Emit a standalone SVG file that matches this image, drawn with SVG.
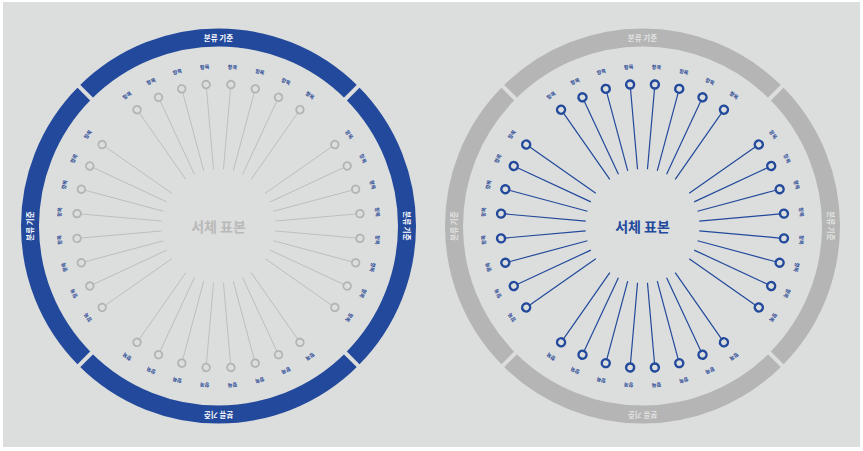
<svg xmlns="http://www.w3.org/2000/svg" width="863" height="451" viewBox="0 0 863 451">
<style>
text{font-family:"Noto Sans CJK KR","Noto Sans",sans-serif;text-anchor:middle;dominant-baseline:central;}
.lb{font-size:5.2px;font-weight:bold;fill:#2b4a96;}
.rt{font-size:7.5px;font-weight:bold;}
.ct{font-size:14px;font-weight:bold;}
.dl{fill:none;stroke:#b3b3b3;stroke-width:1.8;}
.dr{fill:none;stroke:#22499b;stroke-width:2.4;}
.cl{stroke:#b8b8b8;stroke-width:0.8;}
.cr{stroke:#22499b;stroke-width:1.2;}
.gap{stroke:#dcdedd;stroke-width:4;}
</style>
<rect width="863" height="451" fill="#ffffff"/>
<rect x="3" y="2" width="857" height="445" fill="#dcdedd"/>

<!-- LEFT DIAGRAM -->
<g transform="translate(218.5 226)">
  <g id="left-ring">
    <circle r="188.5" fill="none" stroke="#22499b" stroke-width="18"/>
    <line class="gap" x1="175" x2="203" transform="rotate(45)"/>
    <line class="gap" x1="175" x2="203" transform="rotate(135)"/>
    <line class="gap" x1="175" x2="203" transform="rotate(225)"/>
    <line class="gap" x1="175" x2="203" transform="rotate(315)"/>
    <text class="rt" fill="#ffffff" transform="rotate(-90) translate(189 0) rotate(90)">분류 기준</text>
    <text class="rt" fill="#ffffff" transform="rotate(0) translate(189 0) rotate(90)">분류 기준</text>
    <text class="rt" fill="#ffffff" transform="rotate(90) translate(189 0) rotate(90)">분류 기준</text>
    <text class="rt" fill="#ffffff" transform="rotate(180) translate(189 0) rotate(90)">분류 기준</text>
  </g>
  <g id="left-connectors">
    <line class="cl" x1="57" x2="138" transform="rotate(-125)"/>
    <line class="cl" x1="57" x2="138" transform="rotate(-115)"/>
    <line class="cl" x1="57" x2="138" transform="rotate(-105)"/>
    <line class="cl" x1="57" x2="138" transform="rotate(-95)"/>
    <line class="cl" x1="57" x2="138" transform="rotate(-85)"/>
    <line class="cl" x1="57" x2="138" transform="rotate(-75)"/>
    <line class="cl" x1="57" x2="138" transform="rotate(-65)"/>
    <line class="cl" x1="57" x2="138" transform="rotate(-55)"/>
    <line class="cl" x1="57" x2="138" transform="rotate(-35)"/>
    <line class="cl" x1="57" x2="138" transform="rotate(-25)"/>
    <line class="cl" x1="57" x2="138" transform="rotate(-15)"/>
    <line class="cl" x1="57" x2="138" transform="rotate(-5)"/>
    <line class="cl" x1="57" x2="138" transform="rotate(5)"/>
    <line class="cl" x1="57" x2="138" transform="rotate(15)"/>
    <line class="cl" x1="57" x2="138" transform="rotate(25)"/>
    <line class="cl" x1="57" x2="138" transform="rotate(35)"/>
    <line class="cl" x1="57" x2="138" transform="rotate(55)"/>
    <line class="cl" x1="57" x2="138" transform="rotate(65)"/>
    <line class="cl" x1="57" x2="138" transform="rotate(75)"/>
    <line class="cl" x1="57" x2="138" transform="rotate(85)"/>
    <line class="cl" x1="57" x2="138" transform="rotate(95)"/>
    <line class="cl" x1="57" x2="138" transform="rotate(105)"/>
    <line class="cl" x1="57" x2="138" transform="rotate(115)"/>
    <line class="cl" x1="57" x2="138" transform="rotate(125)"/>
    <line class="cl" x1="57" x2="138" transform="rotate(145)"/>
    <line class="cl" x1="57" x2="138" transform="rotate(155)"/>
    <line class="cl" x1="57" x2="138" transform="rotate(165)"/>
    <line class="cl" x1="57" x2="138" transform="rotate(175)"/>
    <line class="cl" x1="57" x2="138" transform="rotate(185)"/>
    <line class="cl" x1="57" x2="138" transform="rotate(195)"/>
    <line class="cl" x1="57" x2="138" transform="rotate(205)"/>
    <line class="cl" x1="57" x2="138" transform="rotate(215)"/>
  </g>
  <g id="left-center"><text class="ct" fill="#b9b9b9">서체 표본</text></g>
  <g id="left-n01" transform="rotate(-125)"><circle class="dl" cx="142" r="3.8"/><text class="lb" transform="translate(160 0) rotate(90)">항목</text></g>
  <g id="left-n02" transform="rotate(-115)"><circle class="dl" cx="142" r="3.8"/><text class="lb" transform="translate(160 0) rotate(90)">항목</text></g>
  <g id="left-n03" transform="rotate(-105)"><circle class="dl" cx="142" r="3.8"/><text class="lb" transform="translate(160 0) rotate(90)">항목</text></g>
  <g id="left-n04" transform="rotate(-95)"><circle class="dl" cx="142" r="3.8"/><text class="lb" transform="translate(160 0) rotate(90)">항목</text></g>
  <g id="left-n05" transform="rotate(-85)"><circle class="dl" cx="142" r="3.8"/><text class="lb" transform="translate(160 0) rotate(90)">항목</text></g>
  <g id="left-n06" transform="rotate(-75)"><circle class="dl" cx="142" r="3.8"/><text class="lb" transform="translate(160 0) rotate(90)">항목</text></g>
  <g id="left-n07" transform="rotate(-65)"><circle class="dl" cx="142" r="3.8"/><text class="lb" transform="translate(160 0) rotate(90)">항목</text></g>
  <g id="left-n08" transform="rotate(-55)"><circle class="dl" cx="142" r="3.8"/><text class="lb" transform="translate(160 0) rotate(90)">항목</text></g>
  <g id="left-n09" transform="rotate(-35)"><circle class="dl" cx="142" r="3.8"/><text class="lb" transform="translate(160 0) rotate(90)">항목</text></g>
  <g id="left-n10" transform="rotate(-25)"><circle class="dl" cx="142" r="3.8"/><text class="lb" transform="translate(160 0) rotate(90)">항목</text></g>
  <g id="left-n11" transform="rotate(-15)"><circle class="dl" cx="142" r="3.8"/><text class="lb" transform="translate(160 0) rotate(90)">항목</text></g>
  <g id="left-n12" transform="rotate(-5)"><circle class="dl" cx="142" r="3.8"/><text class="lb" transform="translate(160 0) rotate(90)">항목</text></g>
  <g id="left-n13" transform="rotate(5)"><circle class="dl" cx="142" r="3.8"/><text class="lb" transform="translate(160 0) rotate(90)">항목</text></g>
  <g id="left-n14" transform="rotate(15)"><circle class="dl" cx="142" r="3.8"/><text class="lb" transform="translate(160 0) rotate(90)">항목</text></g>
  <g id="left-n15" transform="rotate(25)"><circle class="dl" cx="142" r="3.8"/><text class="lb" transform="translate(160 0) rotate(90)">항목</text></g>
  <g id="left-n16" transform="rotate(35)"><circle class="dl" cx="142" r="3.8"/><text class="lb" transform="translate(160 0) rotate(90)">항목</text></g>
  <g id="left-n17" transform="rotate(55)"><circle class="dl" cx="142" r="3.8"/><text class="lb" transform="translate(160 0) rotate(90)">항목</text></g>
  <g id="left-n18" transform="rotate(65)"><circle class="dl" cx="142" r="3.8"/><text class="lb" transform="translate(160 0) rotate(90)">항목</text></g>
  <g id="left-n19" transform="rotate(75)"><circle class="dl" cx="142" r="3.8"/><text class="lb" transform="translate(160 0) rotate(90)">항목</text></g>
  <g id="left-n20" transform="rotate(85)"><circle class="dl" cx="142" r="3.8"/><text class="lb" transform="translate(160 0) rotate(90)">항목</text></g>
  <g id="left-n21" transform="rotate(95)"><circle class="dl" cx="142" r="3.8"/><text class="lb" transform="translate(160 0) rotate(90)">항목</text></g>
  <g id="left-n22" transform="rotate(105)"><circle class="dl" cx="142" r="3.8"/><text class="lb" transform="translate(160 0) rotate(90)">항목</text></g>
  <g id="left-n23" transform="rotate(115)"><circle class="dl" cx="142" r="3.8"/><text class="lb" transform="translate(160 0) rotate(90)">항목</text></g>
  <g id="left-n24" transform="rotate(125)"><circle class="dl" cx="142" r="3.8"/><text class="lb" transform="translate(160 0) rotate(90)">항목</text></g>
  <g id="left-n25" transform="rotate(145)"><circle class="dl" cx="142" r="3.8"/><text class="lb" transform="translate(160 0) rotate(90)">항목</text></g>
  <g id="left-n26" transform="rotate(155)"><circle class="dl" cx="142" r="3.8"/><text class="lb" transform="translate(160 0) rotate(90)">항목</text></g>
  <g id="left-n27" transform="rotate(165)"><circle class="dl" cx="142" r="3.8"/><text class="lb" transform="translate(160 0) rotate(90)">항목</text></g>
  <g id="left-n28" transform="rotate(175)"><circle class="dl" cx="142" r="3.8"/><text class="lb" transform="translate(160 0) rotate(90)">항목</text></g>
  <g id="left-n29" transform="rotate(185)"><circle class="dl" cx="142" r="3.8"/><text class="lb" transform="translate(160 0) rotate(90)">항목</text></g>
  <g id="left-n30" transform="rotate(195)"><circle class="dl" cx="142" r="3.8"/><text class="lb" transform="translate(160 0) rotate(90)">항목</text></g>
  <g id="left-n31" transform="rotate(205)"><circle class="dl" cx="142" r="3.8"/><text class="lb" transform="translate(160 0) rotate(90)">항목</text></g>
  <g id="left-n32" transform="rotate(215)"><circle class="dl" cx="142" r="3.8"/><text class="lb" transform="translate(160 0) rotate(90)">항목</text></g>
</g>

<!-- RIGHT DIAGRAM -->
<g transform="translate(642.5 226)">
  <g id="right-ring">
    <circle r="188.5" fill="none" stroke="#b4b5b4" stroke-width="18"/>
    <line class="gap" x1="175" x2="203" transform="rotate(45)"/>
    <line class="gap" x1="175" x2="203" transform="rotate(135)"/>
    <line class="gap" x1="175" x2="203" transform="rotate(225)"/>
    <line class="gap" x1="175" x2="203" transform="rotate(315)"/>
    <text class="rt" fill="#e2e3e2" transform="rotate(-90) translate(189 0) rotate(90)">분류 기준</text>
    <text class="rt" fill="#e2e3e2" transform="rotate(0) translate(189 0) rotate(90)">분류 기준</text>
    <text class="rt" fill="#e2e3e2" transform="rotate(90) translate(189 0) rotate(90)">분류 기준</text>
    <text class="rt" fill="#e2e3e2" transform="rotate(180) translate(189 0) rotate(90)">분류 기준</text>
  </g>
  <g id="right-connectors">
    <line class="cr" x1="57" x2="138" transform="rotate(-125)"/>
    <line class="cr" x1="57" x2="138" transform="rotate(-115)"/>
    <line class="cr" x1="57" x2="138" transform="rotate(-105)"/>
    <line class="cr" x1="57" x2="138" transform="rotate(-95)"/>
    <line class="cr" x1="57" x2="138" transform="rotate(-85)"/>
    <line class="cr" x1="57" x2="138" transform="rotate(-75)"/>
    <line class="cr" x1="57" x2="138" transform="rotate(-65)"/>
    <line class="cr" x1="57" x2="138" transform="rotate(-55)"/>
    <line class="cr" x1="57" x2="138" transform="rotate(-35)"/>
    <line class="cr" x1="57" x2="138" transform="rotate(-25)"/>
    <line class="cr" x1="57" x2="138" transform="rotate(-15)"/>
    <line class="cr" x1="57" x2="138" transform="rotate(-5)"/>
    <line class="cr" x1="57" x2="138" transform="rotate(5)"/>
    <line class="cr" x1="57" x2="138" transform="rotate(15)"/>
    <line class="cr" x1="57" x2="138" transform="rotate(25)"/>
    <line class="cr" x1="57" x2="138" transform="rotate(35)"/>
    <line class="cr" x1="57" x2="138" transform="rotate(55)"/>
    <line class="cr" x1="57" x2="138" transform="rotate(65)"/>
    <line class="cr" x1="57" x2="138" transform="rotate(75)"/>
    <line class="cr" x1="57" x2="138" transform="rotate(85)"/>
    <line class="cr" x1="57" x2="138" transform="rotate(95)"/>
    <line class="cr" x1="57" x2="138" transform="rotate(105)"/>
    <line class="cr" x1="57" x2="138" transform="rotate(115)"/>
    <line class="cr" x1="57" x2="138" transform="rotate(125)"/>
    <line class="cr" x1="57" x2="138" transform="rotate(145)"/>
    <line class="cr" x1="57" x2="138" transform="rotate(155)"/>
    <line class="cr" x1="57" x2="138" transform="rotate(165)"/>
    <line class="cr" x1="57" x2="138" transform="rotate(175)"/>
    <line class="cr" x1="57" x2="138" transform="rotate(185)"/>
    <line class="cr" x1="57" x2="138" transform="rotate(195)"/>
    <line class="cr" x1="57" x2="138" transform="rotate(205)"/>
    <line class="cr" x1="57" x2="138" transform="rotate(215)"/>
  </g>
  <g id="right-center"><text class="ct" fill="#22499b">서체 표본</text></g>
  <g id="right-n01" transform="rotate(-125)"><circle class="dr" cx="142" r="4"/><text class="lb" transform="translate(160 0) rotate(90)">항목</text></g>
  <g id="right-n02" transform="rotate(-115)"><circle class="dr" cx="142" r="4"/><text class="lb" transform="translate(160 0) rotate(90)">항목</text></g>
  <g id="right-n03" transform="rotate(-105)"><circle class="dr" cx="142" r="4"/><text class="lb" transform="translate(160 0) rotate(90)">항목</text></g>
  <g id="right-n04" transform="rotate(-95)"><circle class="dr" cx="142" r="4"/><text class="lb" transform="translate(160 0) rotate(90)">항목</text></g>
  <g id="right-n05" transform="rotate(-85)"><circle class="dr" cx="142" r="4"/><text class="lb" transform="translate(160 0) rotate(90)">항목</text></g>
  <g id="right-n06" transform="rotate(-75)"><circle class="dr" cx="142" r="4"/><text class="lb" transform="translate(160 0) rotate(90)">항목</text></g>
  <g id="right-n07" transform="rotate(-65)"><circle class="dr" cx="142" r="4"/><text class="lb" transform="translate(160 0) rotate(90)">항목</text></g>
  <g id="right-n08" transform="rotate(-55)"><circle class="dr" cx="142" r="4"/><text class="lb" transform="translate(160 0) rotate(90)">항목</text></g>
  <g id="right-n09" transform="rotate(-35)"><circle class="dr" cx="142" r="4"/><text class="lb" transform="translate(160 0) rotate(90)">항목</text></g>
  <g id="right-n10" transform="rotate(-25)"><circle class="dr" cx="142" r="4"/><text class="lb" transform="translate(160 0) rotate(90)">항목</text></g>
  <g id="right-n11" transform="rotate(-15)"><circle class="dr" cx="142" r="4"/><text class="lb" transform="translate(160 0) rotate(90)">항목</text></g>
  <g id="right-n12" transform="rotate(-5)"><circle class="dr" cx="142" r="4"/><text class="lb" transform="translate(160 0) rotate(90)">항목</text></g>
  <g id="right-n13" transform="rotate(5)"><circle class="dr" cx="142" r="4"/><text class="lb" transform="translate(160 0) rotate(90)">항목</text></g>
  <g id="right-n14" transform="rotate(15)"><circle class="dr" cx="142" r="4"/><text class="lb" transform="translate(160 0) rotate(90)">항목</text></g>
  <g id="right-n15" transform="rotate(25)"><circle class="dr" cx="142" r="4"/><text class="lb" transform="translate(160 0) rotate(90)">항목</text></g>
  <g id="right-n16" transform="rotate(35)"><circle class="dr" cx="142" r="4"/><text class="lb" transform="translate(160 0) rotate(90)">항목</text></g>
  <g id="right-n17" transform="rotate(55)"><circle class="dr" cx="142" r="4"/><text class="lb" transform="translate(160 0) rotate(90)">항목</text></g>
  <g id="right-n18" transform="rotate(65)"><circle class="dr" cx="142" r="4"/><text class="lb" transform="translate(160 0) rotate(90)">항목</text></g>
  <g id="right-n19" transform="rotate(75)"><circle class="dr" cx="142" r="4"/><text class="lb" transform="translate(160 0) rotate(90)">항목</text></g>
  <g id="right-n20" transform="rotate(85)"><circle class="dr" cx="142" r="4"/><text class="lb" transform="translate(160 0) rotate(90)">항목</text></g>
  <g id="right-n21" transform="rotate(95)"><circle class="dr" cx="142" r="4"/><text class="lb" transform="translate(160 0) rotate(90)">항목</text></g>
  <g id="right-n22" transform="rotate(105)"><circle class="dr" cx="142" r="4"/><text class="lb" transform="translate(160 0) rotate(90)">항목</text></g>
  <g id="right-n23" transform="rotate(115)"><circle class="dr" cx="142" r="4"/><text class="lb" transform="translate(160 0) rotate(90)">항목</text></g>
  <g id="right-n24" transform="rotate(125)"><circle class="dr" cx="142" r="4"/><text class="lb" transform="translate(160 0) rotate(90)">항목</text></g>
  <g id="right-n25" transform="rotate(145)"><circle class="dr" cx="142" r="4"/><text class="lb" transform="translate(160 0) rotate(90)">항목</text></g>
  <g id="right-n26" transform="rotate(155)"><circle class="dr" cx="142" r="4"/><text class="lb" transform="translate(160 0) rotate(90)">항목</text></g>
  <g id="right-n27" transform="rotate(165)"><circle class="dr" cx="142" r="4"/><text class="lb" transform="translate(160 0) rotate(90)">항목</text></g>
  <g id="right-n28" transform="rotate(175)"><circle class="dr" cx="142" r="4"/><text class="lb" transform="translate(160 0) rotate(90)">항목</text></g>
  <g id="right-n29" transform="rotate(185)"><circle class="dr" cx="142" r="4"/><text class="lb" transform="translate(160 0) rotate(90)">항목</text></g>
  <g id="right-n30" transform="rotate(195)"><circle class="dr" cx="142" r="4"/><text class="lb" transform="translate(160 0) rotate(90)">항목</text></g>
  <g id="right-n31" transform="rotate(205)"><circle class="dr" cx="142" r="4"/><text class="lb" transform="translate(160 0) rotate(90)">항목</text></g>
  <g id="right-n32" transform="rotate(215)"><circle class="dr" cx="142" r="4"/><text class="lb" transform="translate(160 0) rotate(90)">항목</text></g>
</g>
</svg>
